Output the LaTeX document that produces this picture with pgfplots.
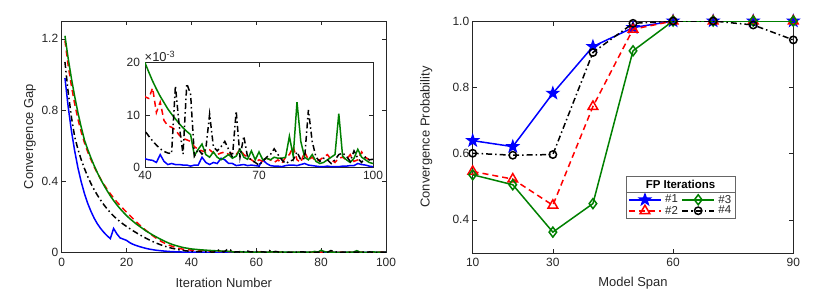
\documentclass[border=0pt]{standalone}
\usepackage{pgfplots}
\pgfplotsset{compat=1.18}
\usepackage{pgfplotstable}
\usepackage{fontspec}
\setmainfont{Liberation Sans}
\usetikzlibrary{fit}
\definecolor{mgreen}{rgb}{0,0.5,0}
\definecolor{axgray}{rgb}{0.15,0.15,0.15}

\pgfdeclareplotmark{fstar}{%
  \pgfpathmoveto{\pgfpointpolar{90}{\pgfplotmarksize}}%
  \pgfpathlineto{\pgfpointpolar{126}{0.40\pgfplotmarksize}}%
  \pgfpathlineto{\pgfpointpolar{162}{\pgfplotmarksize}}%
  \pgfpathlineto{\pgfpointpolar{198}{0.40\pgfplotmarksize}}%
  \pgfpathlineto{\pgfpointpolar{234}{\pgfplotmarksize}}%
  \pgfpathlineto{\pgfpointpolar{270}{0.40\pgfplotmarksize}}%
  \pgfpathlineto{\pgfpointpolar{306}{\pgfplotmarksize}}%
  \pgfpathlineto{\pgfpointpolar{342}{0.40\pgfplotmarksize}}%
  \pgfpathlineto{\pgfpointpolar{18}{\pgfplotmarksize}}%
  \pgfpathlineto{\pgfpointpolar{54}{0.40\pgfplotmarksize}}%
  \pgfpathclose\pgfusepathqfillstroke}

\pgfplotstableread{
x y
1 0.980
2 0.818
3 0.683
4 0.571
5 0.476
6 0.398
7 0.332
8 0.277
9 0.232
10 0.193
11 0.161
12 0.135
13 0.113
14 0.094
15 0.078
16 0.135
17 0.105
18 0.082
19 0.075
20 0.068
21 0.055
22 0.046
23 0.039
24 0.033
25 0.028
26 0.023
27 0.019
28 0.016
29 0.013
30 0.011
31 0.009
32 0.0075
33 0.006
34 0.005
35 0.004
36 0.0033
37 0.0028
38 0.0023
39 0.002
40 0.0017
41 0.0015
42 0.0014
43 0.0010
44 0.0025
45 0.0012
46 0.0006
47 0.0008
48 0.0006
49 0.0006
50 0.0005
51 0.0005
52 0.0003
53 0.0005
54 0.0005
55 0.0020
56 0.0010
57 0.0006
58 0.0010
59 0.0008
60 0.0018
61 0.0015
62 0.0008
63 0.0008
64 0.0004
65 0.0005
66 0.0006
67 0.0004
68 0.0005
69 0.0004
70 0.0003
71 0.0015
72 0.0008
73 0.0004
74 0.0003
75 0.0003
76 0.0002
77 0.0004
78 0.0005
79 0.0005
80 0.0004
81 0.0006
82 0.0008
83 0.0005
84 0.0004
85 0.0003
86 0.0002
87 0.0002
88 0.0003
89 0.0002
90 0.0002
91 0.0002
92 0.0003
93 0.0003
94 0.0004
95 0.0004
96 0.0008
97 0.0006
98 0.0005
99 0.0003
100 0.0002
}\blueA

\pgfplotstableread{
x y
1 1.190
2 1.050
3 0.935
4 0.835
5 0.750
6 0.678
7 0.617
8 0.566
9 0.522
10 0.482
11 0.446
12 0.413
13 0.383
14 0.355
15 0.330
16 0.306
17 0.284
18 0.264
19 0.245
20 0.226
21 0.208
22 0.190
23 0.172
24 0.155
25 0.139
26 0.124
27 0.109
28 0.095
29 0.082
30 0.070
31 0.059
32 0.050
33 0.042
34 0.035
35 0.029
36 0.024
37 0.020
38 0.017
39 0.015
40 0.0135
41 0.0132
42 0.0152
43 0.0105
44 0.0125
45 0.0090
46 0.0080
47 0.0077
48 0.0072
49 0.0062
50 0.0056
51 0.0053
52 0.0050
53 0.0040
54 0.0035
55 0.0032
56 0.0030
57 0.0034
58 0.0028
59 0.0025
60 0.0028
61 0.0030
62 0.0025
63 0.0028
64 0.0025
65 0.0035
66 0.0025
67 0.0020
68 0.0015
69 0.0010
70 0.0015
71 0.0012
72 0.0018
73 0.0015
74 0.0010
75 0.0015
76 0.0008
77 0.0020
78 0.0025
79 0.0040
80 0.0015
81 0.0010
82 0.0030
83 0.0015
84 0.0020
85 0.0012
86 0.0015
87 0.0020
88 0.0025
89 0.0015
90 0.0010
91 0.0018
92 0.0020
93 0.0015
94 0.0025
95 0.0012
96 0.0015
97 0.0030
98 0.0020
99 0.0015
100 0.0015
}\redA

\pgfplotstableread{
x y
1 1.217
2 1.090
3 0.977
4 0.877
5 0.786
6 0.705
7 0.632
8 0.580
9 0.532
10 0.488
11 0.448
12 0.411
13 0.378
14 0.347
15 0.318
16 0.292
17 0.268
18 0.246
19 0.226
20 0.207
21 0.190
22 0.175
23 0.160
24 0.147
25 0.134
26 0.121
27 0.110
28 0.099
29 0.089
30 0.079
31 0.070
32 0.061
33 0.053
34 0.046
35 0.040
36 0.035
37 0.030
38 0.026
39 0.023
40 0.0200
41 0.0182
42 0.0165
43 0.0150
44 0.0136
45 0.0124
46 0.0112
47 0.0102
48 0.0093
49 0.0084
50 0.0076
51 0.0069
52 0.0063
53 0.0023
54 0.0035
55 0.0045
56 0.0025
57 0.0020
58 0.0030
59 0.0020
60 0.0015
61 0.0020
62 0.0025
63 0.0018
64 0.0022
65 0.0035
66 0.0020
67 0.0016
68 0.0032
69 0.0015
70 0.0030
71 0.0015
72 0.0018
73 0.0015
74 0.0020
75 0.0018
76 0.0018
77 0.0020
78 0.0060
79 0.0022
80 0.0125
81 0.0050
82 0.0020
83 0.0015
84 0.0025
85 0.0012
86 0.0008
87 0.0010
88 0.0015
89 0.0020
90 0.0025
91 0.0103
92 0.0022
93 0.0015
94 0.0010
95 0.0018
96 0.0035
97 0.0020
98 0.0015
99 0.0010
100 0.0008
}\greenA

\pgfplotstableread{
x y
1 1.070
2 0.900
3 0.760
4 0.650
5 0.580
6 0.522
7 0.472
8 0.428
9 0.388
10 0.353
11 0.322
12 0.294
13 0.268
14 0.245
15 0.224
16 0.205
17 0.188
18 0.173
19 0.159
20 0.146
21 0.134
22 0.122
23 0.111
24 0.100
25 0.090
26 0.080
27 0.071
28 0.062
29 0.054
30 0.047
31 0.040
32 0.034
33 0.029
34 0.024
35 0.020
36 0.016
37 0.013
38 0.010
39 0.008
40 0.0070
41 0.0060
42 0.0051
43 0.0043
44 0.0036
45 0.0031
46 0.0028
47 0.0027
48 0.0156
49 0.0080
50 0.0026
51 0.0160
52 0.0140
53 0.0022
54 0.0035
55 0.0026
56 0.0035
57 0.0102
58 0.0040
59 0.0032
60 0.0040
61 0.0050
62 0.0035
63 0.0020
64 0.0108
65 0.0020
66 0.0060
67 0.0020
68 0.0015
69 0.0010
70 0.0005
71 0.0012
72 0.0020
73 0.0025
74 0.0036
75 0.0025
76 0.0015
77 0.0008
78 0.0012
79 0.0015
80 0.0030
81 0.0015
82 0.0018
83 0.0110
84 0.0050
85 0.0020
86 0.0012
87 0.0018
88 0.0015
89 0.0008
90 0.0015
91 0.0025
92 0.0028
93 0.0022
94 0.0012
95 0.0032
96 0.0018
97 0.0010
98 0.0020
99 0.0015
100 0.0016
}\blackA

\pgfplotstableread{
x y
10 0.639
20 0.621
30 0.782
40 0.923
50 0.980
60 1.000
70 1.000
80 1.000
90 1.000
}\pA
\pgfplotstableread{
x y
10 0.546
20 0.523
30 0.444
40 0.742
50 0.975
60 1.000
70 1.000
80 1.000
90 1.000
}\pB
\pgfplotstableread{
x y
10 0.536
20 0.506
30 0.363
40 0.449
50 0.910
60 1.000
70 1.000
80 1.000
90 1.000
}\pC
\pgfplotstableread{
x y
10 0.601
20 0.595
30 0.597
40 0.905
50 0.993
60 1.000
70 1.000
80 0.988
90 0.943
}\pD

\pgfplotsset{
  mystyle/.style={
    scale only axis, anchor=south west,
    axis line style={axgray, line width=0.6bp},
    tick style={axgray, line width=0.6bp},
    tick align=inside, major tick length=4.5bp,
    tick label style={font=\fontsize{12}{14}\selectfont, text=axgray},
    label style={font=\fontsize{13}{15}\selectfont, text=axgray},
    /pgf/number format/assume math mode=true,
    scaled ticks=false,
    clip mode=individual,
  },
  lblue/.style={blue, line width=1.5bp},
  lred/.style={red, line width=1.5bp, dash pattern=on 6bp off 4bp},
  lgreen/.style={mgreen, line width=1.5bp},
  lblack/.style={black, line width=1.5bp, dash pattern=on 6bp off 3bp on 1.5bp off 3bp},
}

\begin{document}
\begin{tikzpicture}[font=\fontsize{12}{14}\selectfont]
\useasboundingbox (0,0) rectangle (830bp,291bp);

% ---------- left main axis ----------
\begin{axis}[mystyle,
  at={(61.7bp,38.5bp)}, width=324.3bp, height=231.5bp,
  xmin=0, xmax=100, ymin=0, ymax=1.3,
  xtick={0,20,...,100}, ytick={0,0.4,0.8,1.2},
  xlabel={Iteration Number}, ylabel={Convergence Gap},
  xlabel style={at={(axis description cs:0.5,-0.13)}, anchor=center},
  ylabel style={at={(axis description cs:-0.098,0.5)}, anchor=center},
  xticklabel style={yshift=-2bp},
]
\addplot[lblue] table {\blueA};
\addplot[lred] table {\redA};
\addplot[lgreen] table {\greenA};
\addplot[lblack] table {\blackA};
\end{axis}

% ---------- inset ----------
\begin{axis}[mystyle, name=inset,
  at={(145bp,123.3bp)}, width=228bp, height=105bp,
  xmin=40, xmax=100, ymin=0, ymax=0.02,
  xtick={40,70,100}, ytick={0,0.01,0.02}, yticklabels={0,10,20},
  axis background/.style={fill=white},
  xticklabel style={yshift=0bp},
  yticklabel style={xshift=-1.5bp},
]
\addplot[lblue] table {\blueA};
\addplot[lred] table {\redA};
\addplot[lgreen] table {\greenA};
\addplot[lblack] table {\blackA};
\end{axis}
\node[anchor=south west, inner sep=0.5bp, text=axgray, font=\fontsize{13}{15}\selectfont] at ([xshift=-1bp]inset.north west) {×10\textsuperscript{-3}};

% ---------- right axis ----------
\begin{axis}[mystyle,
  at={(472.7bp,38bp)}, width=320.6bp, height=232bp,
  xmin=10, xmax=90, ymin=0.3, ymax=1.0,
  xtick={10,30,60,90}, ytick={0.4,0.6,0.8,1.0},
  yticklabel style={/pgf/number format/.cd, fixed, fixed zerofill, precision=1},
  xlabel={Model Span}, ylabel={Convergence Probability},
  xlabel style={at={(axis description cs:0.5,-0.13)}, anchor=center},
  ylabel style={at={(axis description cs:-0.145,0.5)}, anchor=center},
  xticklabel style={yshift=-2bp},
  legend columns=2, transpose legend,
  legend style={name=leg, at={(rel axis cs:0.648,0.15)}, anchor=south,
    draw=none, fill=white, inner xsep=2bp, inner ysep=1bp,
    font=\fontsize{11.5}{13}\selectfont, column sep=2bp, row sep=-1.5bp,
    nodes={inner sep=1.5bp, text=axgray}},
  legend cell align=left,
  legend image code/.code={\draw[mark repeat=2, mark phase=2, #1] plot coordinates {(0bp,0bp) (16bp,0bp) (32bp,0bp)};},
]
\addplot[lblue, mark=fstar, mark size=5.5bp, mark options={solid, fill=blue}] table {\pA};
\addlegendentry{\#1}
\addplot[lred, mark=triangle, mark size=5.5bp, mark options={solid}] table {\pB};
\addlegendentry{\#2}
\addplot[lgreen, mark=diamond, mark size=5bp, mark options={solid}] table {\pC};
\addlegendentry{\#3}
\addplot[lblack, mark=o, mark size=3.7bp, mark options={solid}] table {\pD};
\addlegendentry{\#4}
\end{axis}
\node[anchor=south, fill=white, inner sep=0pt, minimum height=16bp, text=black, font=\fontsize{11.5}{13}\selectfont\bfseries] (lt) at (leg.north) {FP Iterations};
\node[draw=black!60, line width=0.6bp, fit=(leg)(lt), inner sep=0pt] {};
\draw[black!60, line width=0.6bp] (leg.north west) -- (leg.north east);
\end{tikzpicture}
\end{document}
